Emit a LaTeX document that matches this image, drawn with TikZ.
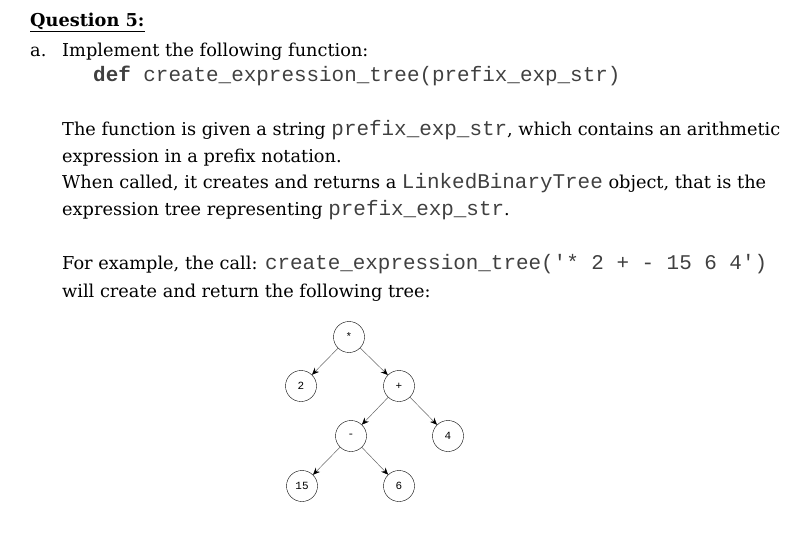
\documentclass[tikz,border=0pt]{standalone}
\usepackage{fontspec}
\setmainfont{DejaVu Serif}
\setmonofont{Liberation Mono}
\usetikzlibrary{arrows.meta}
\newcommand{\codetext}[1]{{\color{black!75}\ttfamily\fontsize{21}{20}\selectfont #1}}
\begin{document}
\begin{tikzpicture}[x=1bp,y=-1bp,>=Stealth,
  line/.style={anchor=base west,inner sep=0pt,font=\fontsize{17.8}{20}\selectfont},
  treenode/.style={draw,circle,minimum size=31bp,inner sep=0pt,font=\ttfamily\fontsize{11}{12}\selectfont},
  treeedge/.style={->,draw=black!60,line width=0.5bp,
    arrows={-Stealth[length=7bp,width=6bp,black]}}]
  \useasboundingbox (0,0) rectangle (800,548);
  % Text
  \node[line] (q) at (30,27) {\textbf{\underline{Question 5:}}};
  \node[line] (a) at (30,57) {a.};
  \node[line] (impl) at (62,57) {Implement the following function:};
  \node[line] (def) at (93,82) {\codetext{\textbf{def} create\_expression\_tree(prefix\_exp\_str)}};
  \node[line] (p1) at (62,136) {The function is given a string \codetext{prefix\_exp\_str}, which contains an arithmetic};
  \node[line] (p2) at (62,163) {expression in a prefix notation.};
  \node[line] (p3) at (62,189) {When called, it creates and returns a \codetext{LinkedBinaryTree} object, that is the};
  \node[line] (p4) at (62,216) {expression tree representing \codetext{prefix\_exp\_str}.};
  \node[line] (p5) at (62,270) {For example, the call: \codetext{create\_expression\_tree('* 2 + - 15 6 4')}};
  \node[line] (p6) at (62,298) {will create and return the following tree:};
  % Tree
  \node[treenode] (mul) at (349,337) {*};
  \node[treenode] (two) at (301,386) {2};
  \node[treenode] (plus) at (399,386) {+};
  \node[treenode] (minus) at (351,436) {-};
  \node[treenode] (four) at (448,436) {4};
  \node[treenode] (fifteen) at (302,486) {15};
  \node[treenode] (six) at (399,486) {6};
  \draw[treeedge] (mul) -- (two);
  \draw[treeedge] (mul) -- (plus);
  \draw[treeedge] (plus) -- (minus);
  \draw[treeedge] (plus) -- (four);
  \draw[treeedge] (minus) -- (fifteen);
  \draw[treeedge] (minus) -- (six);
\end{tikzpicture}
\end{document}
